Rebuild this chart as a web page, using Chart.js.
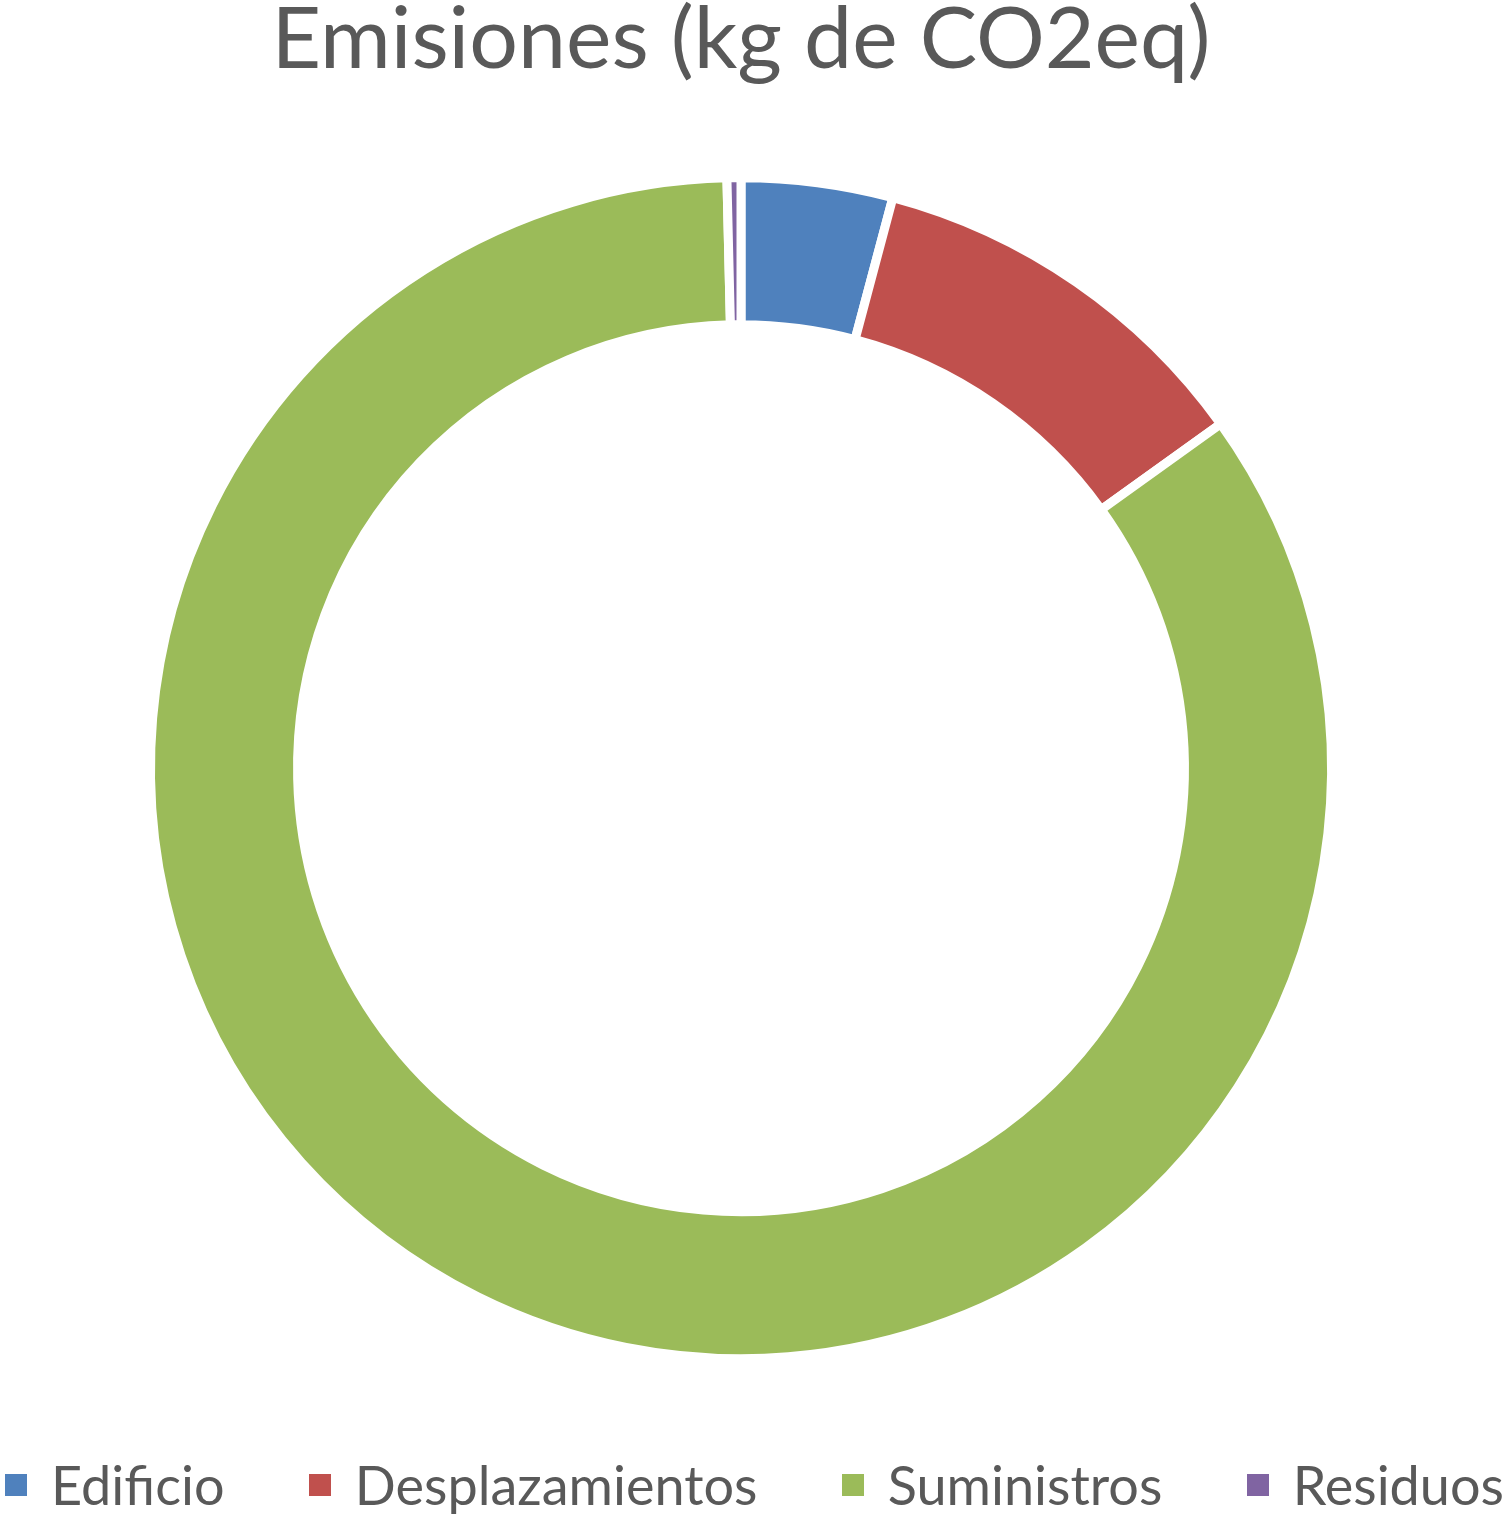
<!DOCTYPE html>
<html>
<head>
<meta charset="utf-8">
<script src="https://cdn.jsdelivr.net/npm/chart.js@4.4.0/dist/chart.umd.min.js"></script>
<style>
  html, body { margin: 0; padding: 0; background: #fff; }
  #wrap { position: relative; width: 1508px; height: 1520px; }
  #c { position: absolute; left: 0; top: 0; }
  #legend { position: absolute; left: 5px; right: 4px; top: 1452px; height: 65px;
            display: flex; justify-content: space-between; align-items: center;
            font-family: Lato, "Open Sans", sans-serif; font-size: 54px; color: #595959; }
  .item { display: flex; align-items: center; white-space: nowrap; }
  .sw { width: 22px; height: 22px; margin-right: 24px; display: inline-block; }
</style>
</head>
<body>
<div id="wrap">
  <canvas id="c" width="1508" height="1520"></canvas>
  <div id="legend"></div>
</div>
<script>
const titleText = "Emisiones (kg de CO2eq)";
const categories = ["Edificio", "Desplazamientos", "Suministros", "Residuos"];
const emissions = [4.14, 10.95, 84.53, 0.38];
const colors = ["#4F81BD", "#C0504D", "#9BBB59", "#8064A2"];

const chart = new Chart(document.getElementById("c"), {
  type: "doughnut",
  data: {
    labels: categories,
    datasets: [{
      data: emissions,
      backgroundColor: colors,
      borderColor: "#ffffff",
      borderWidth: 9,
      radius: 590.5,
      cutout: "75.1%"
    }]
  },
  options: {
    responsive: false,
    animation: false,
    rotation: 0,
    layout: { padding: { left: 0, right: 26, top: 2, bottom: 103 } },
    plugins: {
      legend: { display: false },
      tooltip: { enabled: false },
      title: {
        display: true,
        text: titleText,
        color: "#595959",
        font: { family: "Lato", size: 86, weight: "normal", lineHeight: 0.9 },
        padding: { top: 0, bottom: 40 }
      }
    }
  }
});

const legend = document.getElementById("legend");
categories.forEach((name, i) => {
  const it = document.createElement("div");
  it.className = "item";
  const sw = document.createElement("span");
  sw.className = "sw";
  sw.style.background = colors[i];
  const tx = document.createElement("span");
  tx.textContent = name;
  it.appendChild(sw);
  it.appendChild(tx);
  legend.appendChild(it);
});
</script>
</body>
</html>
